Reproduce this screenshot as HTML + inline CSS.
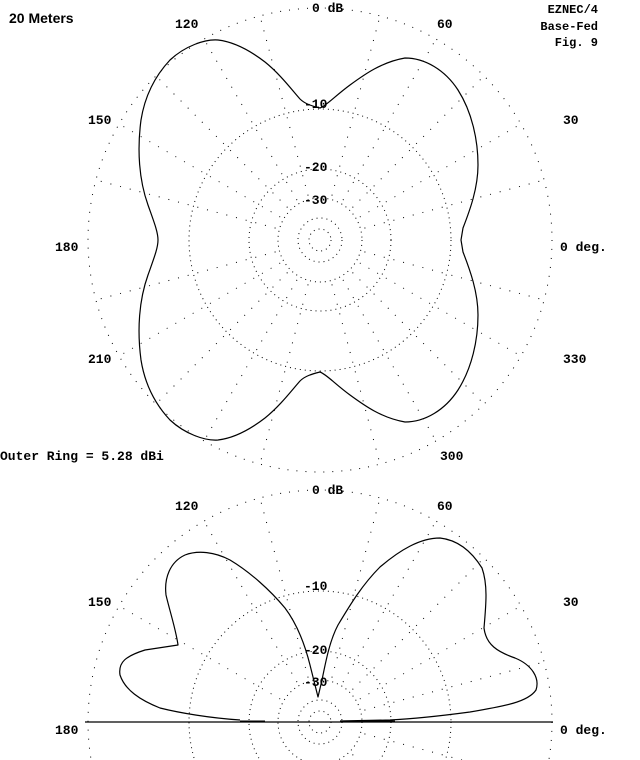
<!DOCTYPE html>
<html><head><meta charset="utf-8"><style>
html,body{margin:0;padding:0;background:#fff;width:640px;height:760px;overflow:hidden}
svg{display:block}
text{font-family:"Liberation Mono",monospace;font-size:13px;font-weight:bold;fill:#000}
</style></head><body>
<svg width="640" height="760" viewBox="0 0 640 760" xmlns="http://www.w3.org/2000/svg">
<defs>
<g id="grid" fill="none" stroke="#000" stroke-width="1" stroke-dasharray="1 4">
<circle r="11"/><circle r="22"/><circle r="42"/><circle r="71"/><circle r="131"/><circle r="232" stroke-dasharray="1 8"/>
</g>
<line id="ray" x1="0" y1="-46" x2="0" y2="-232" stroke="#000" stroke-width="1" stroke-dasharray="1 9"/>
</defs>
<g transform="translate(320,240)"><use href="#grid"/>
<use href="#ray" transform="rotate(15)"/><use href="#ray" transform="rotate(45)"/><use href="#ray" transform="rotate(75)"/><use href="#ray" transform="rotate(105)"/><use href="#ray" transform="rotate(135)"/><use href="#ray" transform="rotate(165)"/><use href="#ray" transform="rotate(195)"/><use href="#ray" transform="rotate(225)"/><use href="#ray" transform="rotate(255)"/><use href="#ray" transform="rotate(285)"/><use href="#ray" transform="rotate(315)"/><use href="#ray" transform="rotate(345)"/>
<use href="#ray" transform="rotate(30)"/><use href="#ray" transform="rotate(60)"/><use href="#ray" transform="rotate(120)"/><use href="#ray" transform="rotate(150)"/><use href="#ray" transform="rotate(210)"/><use href="#ray" transform="rotate(240)"/><use href="#ray" transform="rotate(300)"/><use href="#ray" transform="rotate(330)"/>
</g>
<g transform="translate(320,722)"><use href="#grid"/>
<use href="#ray" transform="rotate(15)"/><use href="#ray" transform="rotate(45)"/><use href="#ray" transform="rotate(75)"/><use href="#ray" transform="rotate(105)"/><use href="#ray" transform="rotate(135)"/><use href="#ray" transform="rotate(165)"/><use href="#ray" transform="rotate(195)"/><use href="#ray" transform="rotate(345)"/>
<use href="#ray" transform="rotate(30)"/><use href="#ray" transform="rotate(60)"/><use href="#ray" transform="rotate(300)"/><use href="#ray" transform="rotate(330)"/>
</g>
<g fill="none" stroke="#000" stroke-width="1.2" stroke-linejoin="round">
<path d="M320,108 C312,106 305,104 300,99 C292,90 280,74 265,62 C252,52 235,42 218,40 C205,39 185,46 170,60 C155,76 145,95 141,120 C137,150 139,180 148,205 C154,222 158,232 158,240 C158,248 154,258 148,275 C139,300 137,330 141,360 C145,385 155,404 170,420 C185,434 205,441 218,440 C235,438 252,428 265,418 C280,406 292,390 300,381 C305,376 312,374 320,372 C326,374 335,384 350,395 C365,406 382,418 405,422 C425,422 445,410 458,390 C472,368 478,340 478,315 C478,292 470,270 463,252 L461,240 L463,228 C470,210 478,188 478,165 C478,140 472,112 458,90 C445,70 425,58 405,58 C382,62 365,74 350,85 C335,96 326,106 320,108 Z"/>
<path d="M240,720 C210,718 180,713 160,708 C140,700 125,690 120,675 C118,662 126,656 145,650 L178,645 C176,630 170,612 166,595 C164,578 170,562 185,555 C198,550 215,552 230,560 C250,572 270,590 285,608 C297,624 305,645 310,665 L318,697 L322,680 C326,660 330,640 338,625 C350,605 362,585 380,567 C400,550 420,538 440,538 C458,540 472,552 482,568 C488,585 486,605 484,628 C486,645 498,652 515,658 C532,665 540,678 536,690 C528,702 505,706 470,712 C440,716 410,719 390,720 L340,721"/>
</g>
<line x1="85" y1="722" x2="553" y2="722" stroke="#000" stroke-width="1.2"/>
<line x1="240" y1="721" x2="265" y2="721" stroke="#000" stroke-width="1"/>
<line x1="345" y1="721" x2="395" y2="721" stroke="#000" stroke-width="1"/>
<text x="9" y="23" style="font-family:'Liberation Sans',sans-serif;font-size:14px">20 Meters</text>
<text x="598" y="13" text-anchor="end" style="font-size:12px">EZNEC/4</text>
<text x="598" y="30" text-anchor="end" style="font-size:12px">Base-Fed</text>
<text x="598" y="46" text-anchor="end" style="font-size:12px">Fig. 9</text>
<text x="312" y="12">0 dB</text>
<text x="175" y="28">120</text><text x="437" y="28">60</text>
<text x="88" y="124">150</text><text x="563" y="124">30</text>
<text x="55" y="251">180</text><text x="560" y="251">0 deg.</text>
<text x="88" y="363">210</text><text x="563" y="363">330</text>
<text x="440" y="460">300</text>
<text x="0" y="460">Outer Ring = 5.28 dBi</text>
<text x="304" y="108">-10</text><text x="304" y="171">-20</text><text x="304" y="204">-30</text>
<text x="312" y="494">0 dB</text>
<text x="175" y="510">120</text><text x="437" y="510">60</text>
<text x="88" y="606">150</text><text x="563" y="606">30</text>
<text x="55" y="734">180</text><text x="560" y="734">0 deg.</text>
<text x="304" y="590">-10</text><text x="304" y="654">-20</text><text x="304" y="686">-30</text>
</svg>
</body></html>
